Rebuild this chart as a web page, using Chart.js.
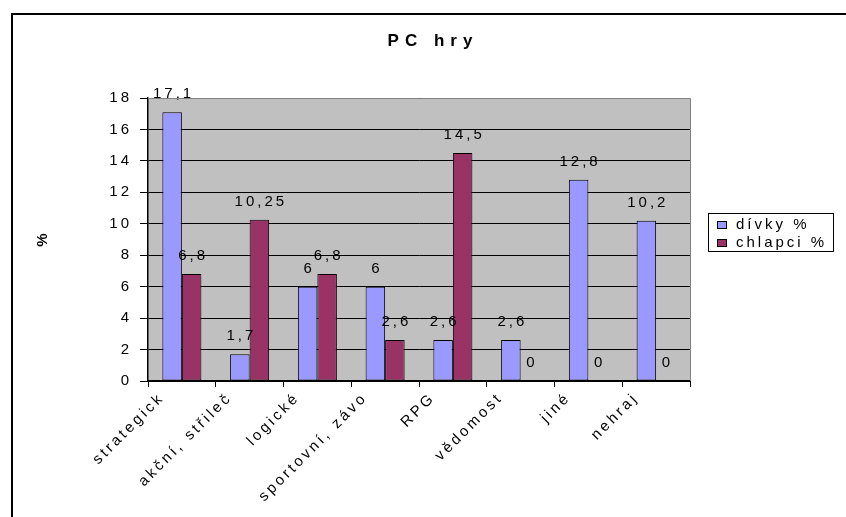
<!DOCTYPE html>
<html>
<head>
<meta charset="utf-8">
<script src="https://cdn.jsdelivr.net/npm/chart.js@4/dist/chart.umd.min.js"></script>
<style>
  html, body { margin: 0; padding: 0; background: #fff; }
  #wrap { width: 846px; height: 517px; }
</style>
</head>
<body>
<div id="wrap"><canvas id="pcChart" width="846" height="517"></canvas></div>
<script>
// chart values
const categories = ['strategick', 'akční, střileč', 'logické', 'sportovní, závo', 'RPG', 'vědomost', 'jiné', 'nehraj'];
const divky = [17.1, 1.7, 6, 6, 2.6, 2.6, 12.8, 10.2];
const chlapci = [6.8, 10.25, 6.8, 2.6, 14.5, 0, 0, 0];
const seriesNames = ['dívky %', 'chlapci %'];
const yMin = 0;
const yMax = 18;
const yStep = 2;

const blue = '#9999FF';
const wine = '#993366';
const FONT = 'Arial, "Liberation Sans", sans-serif';
const SPACING = '3px';

function fmt(v) {
    return String(v).replace('.', ',');
}

const decor = {
    id: 'decor',
    beforeUpdate(chart) {
        chart.ctx.letterSpacing = SPACING;
    },
    beforeDraw(chart) {
        const ctx = chart.ctx;
        const a = chart.chartArea;
        ctx.letterSpacing = SPACING;
        ctx.save();
        // outer frame
        ctx.strokeStyle = '#000';
        ctx.lineWidth = 2;
        ctx.beginPath();
        ctx.moveTo(12, 600);
        ctx.lineTo(12, 14);
        ctx.lineTo(900, 14);
        ctx.stroke();
        // plot background
        ctx.fillStyle = '#C0C0C0';
        ctx.fillRect(a.left, a.top, a.right - a.left, a.bottom - a.top);
        ctx.restore();
    },
    afterDatasetsDraw(chart) {
        const ctx = chart.ctx;
        ctx.save();
        ctx.letterSpacing = SPACING;
        ctx.font = '15px ' + FONT;
        ctx.fillStyle = '#000';
        ctx.textAlign = 'center';
        ctx.textBaseline = 'alphabetic';
        chart.data.datasets.forEach((ds, di) => {
            chart.getDatasetMeta(di).data.forEach((bar, i) => {
                ctx.fillText(fmt(ds.data[i]), bar.x + 1.5, bar.y - 14);
            });
        });
        ctx.restore();
    },
    afterDraw(chart) {
        const ctx = chart.ctx;
        const a = chart.chartArea;
        ctx.save();
        // plot border top / right
        ctx.strokeStyle = '#808080';
        ctx.lineWidth = 1;
        ctx.beginPath();
        ctx.moveTo(a.left, a.top + 0.5);
        ctx.lineTo(a.right + 0.5, a.top + 0.5);
        ctx.lineTo(a.right + 0.5, a.bottom);
        ctx.stroke();

        // title
        ctx.fillStyle = '#000';
        ctx.letterSpacing = '6px';
        ctx.font = 'bold 17px ' + FONT;
        ctx.textAlign = 'center';
        ctx.textBaseline = 'middle';
        ctx.fillText('PC hry', 433, 41);

        // y axis title
        ctx.letterSpacing = '0px';
        ctx.font = 'bold 15px ' + FONT;
        ctx.translate(43, 240);
        ctx.rotate(-Math.PI / 2);
        ctx.fillText('%', 0, 0);
        ctx.setTransform(1, 0, 0, 1, 0, 0);

        // legend
        ctx.fillStyle = '#fff';
        ctx.fillRect(708, 213, 125, 38);
        ctx.strokeStyle = '#000';
        ctx.strokeRect(708.5, 213.5, 125, 38);
        const colors = [blue, wine];
        ctx.letterSpacing = SPACING;
        ctx.font = '15px ' + FONT;
        ctx.textAlign = 'left';
        ctx.textBaseline = 'middle';
        seriesNames.forEach((name, i) => {
            const y = 225 + i * 18;
            ctx.fillStyle = colors[i];
            ctx.fillRect(717.5, y - 3.5, 9, 7);
            ctx.strokeRect(717.5, y - 3.5, 9, 7);
            ctx.fillStyle = '#000';
            ctx.fillText(name, 736, y);
        });
        ctx.restore();
    }
};

const ctx = document.getElementById('pcChart').getContext('2d');
new Chart(ctx, {
    type: 'bar',
    data: {
        labels: categories,
        datasets: [{
            label: seriesNames[0],
            data: divky,
            backgroundColor: blue,
            borderColor: '#000',
            borderWidth: 1,
            borderSkipped: false
        }, {
            label: seriesNames[1],
            data: chlapci,
            backgroundColor: wine,
            borderColor: '#000',
            borderWidth: 1,
            borderSkipped: false
        }]
    },
    options: {
        responsive: false,
        animation: false,
        devicePixelRatio: 1,
        layout: {
            padding: { top: 98, right: 156, left: 0, bottom: 0 }
        },
        datasets: {
            bar: { categoryPercentage: 0.576, barPercentage: 1 }
        },
        plugins: {
            legend: { display: false },
            tooltip: { enabled: false }
        },
        scales: {
            x: {
                afterFit(scale) { scale.height = 136; },
                grid: {
                    drawOnChartArea: false,
                    color: '#000',
                    tickLength: 6
                },
                border: { color: '#000', width: 2 },
                ticks: {
                    color: '#000',
                    font: { size: 15, family: FONT },
                    autoSkip: false,
                    maxRotation: 45,
                    minRotation: 45,
                    padding: 2,
                    labelOffset: -20
                }
            },
            y: {
                min: yMin,
                max: yMax,
                afterFit(scale) { scale.width = 148; },
                grid: {
                    color: '#000',
                    tickLength: 8
                },
                border: { color: '#000', width: 1.5 },
                ticks: {
                    stepSize: yStep,
                    color: '#000',
                    font: { size: 15, family: FONT },
                    padding: 8
                }
            }
        }
    },
    plugins: [decor]
});
</script>
</body>
</html>
